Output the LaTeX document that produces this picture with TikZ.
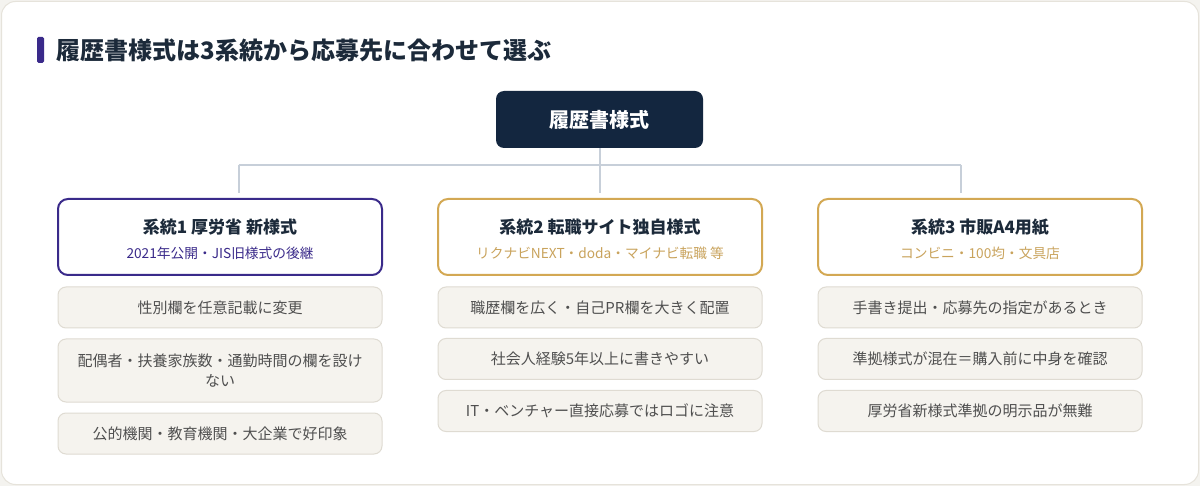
\documentclass[tikz,border=0pt]{standalone}
\usepackage{fontspec}
\setmainfont{Noto Sans CJK JP}
\usetikzlibrary{positioning}

\definecolor{navy}{HTML}{13263F}
\definecolor{inkdark}{HTML}{1C2A3A}
\definecolor{purpleline}{HTML}{3A2A8A}
\definecolor{goldline}{HTML}{D3A853}
\definecolor{goldtext}{HTML}{C9A35C}
\definecolor{itemfill}{HTML}{F5F3EE}
\definecolor{itemline}{HTML}{DFDBD2}
\definecolor{itemtext}{HTML}{4F4F4F}
\definecolor{linkgray}{HTML}{C7CFD9}
\definecolor{pagebg}{HTML}{F4F3EF}
\definecolor{cardline}{HTML}{E6E3DB}

\begin{document}
\begin{tikzpicture}[x=1pt, y=-1pt,
		root/.style={fill=navy, rounded corners=8pt, minimum width=207pt, minimum height=57pt,
			text=white, font=\fontsize{20}{24}\selectfont\bfseries},
		catbox/.style={draw, line width=2pt, fill=white, rounded corners=10pt,
			minimum width=324pt, minimum height=76pt},
		cattitle/.style={text=inkdark, font=\fontsize{17}{20}\selectfont\bfseries},
		catsub/.style={font=\fontsize{13.7}{16}\selectfont},
		item/.style={draw=itemline, line width=1pt, fill=itemfill, rounded corners=8pt,
			minimum width=324pt, text=itemtext, align=center,
			font=\fontsize{15}{20}\selectfont},
		link/.style={draw=linkgray, line width=2pt}]
		\useasboundingbox (0, 0) rectangle (1200, 486);
		\fill[pagebg]	(0, 0) rectangle (1200, 486);
		\filldraw[fill=white, draw=cardline, line width=1pt, rounded corners=14pt]	(1.5, 1.5) rectangle (1198.5, 484.5);

		% heading
		\fill[purpleline, rounded corners=1.5pt]	(37, 37) rectangle (44, 63);
		\node[anchor=west, text=inkdark, font=\fontsize{24}{28}\selectfont\bfseries] (heading) at (53, 50)
			{履歴書様式は3系統から応募先に合わせて選ぶ};

		\node[root] (root) at (599.5, 119.5) {履歴書様式};

		% three lines of forms
		\node[catbox, draw=purpleline] (cat1) at (220, 237) {};
		\node[catbox, draw=goldline] (cat2) at (600, 237) {};
		\node[catbox, draw=goldline] (cat3) at (980, 237) {};

		\node[cattitle] (t1) at (220, 227) {系統1 厚労省 新様式};
		\node[cattitle] (t2) at (600, 227) {系統2 転職サイト独自様式};
		\node[cattitle] (t3) at (980, 227) {系統3 市販A4用紙};
		\node[catsub, text=purpleline] (s1) at (220, 253) {2021年公開・JIS旧様式の後継};
		\node[catsub, text=goldtext] (s2) at (600, 253) {リクナビNEXT・doda・マイナビ転職 等};
		\node[catsub, text=goldtext] (s3) at (980, 253) {コンビニ・100均・文具店};

		% tree lines
		\coordinate (bus) at (599.5, 165);
		\coordinate (drop1) at (238.5, 193);
		\coordinate (drop2) at (599.5, 193);
		\coordinate (drop3) at (961, 193);
		\draw[link]	(root.south) to (bus);
		\draw[link]	(bus -| drop1) to (bus -| drop3);
		\foreach \i in {1,2,3}
			\draw[link]	(bus -| drop\i) to (drop\i);

		% items
		\node[item, minimum height=41pt] (a1) at (220, 307.5) {性別欄を任意記載に変更};
		\node[item, minimum height=63pt] (a2) at (220, 370.5) {配偶者・扶養家族数・通勤時間の欄を設け\\ない};
		\node[item, minimum height=41pt] (a3) at (220, 433.5) {公的機関・教育機関・大企業で好印象};

		\node[item, minimum height=41pt] (b1) at (600, 307.5) {職歴欄を広く・自己PR欄を大きく配置};
		\node[item, minimum height=41pt] (b2) at (600, 359) {社会人経験5年以上に書きやすい};
		\node[item, minimum height=41pt] (b3) at (600, 411) {IT・ベンチャー直接応募ではロゴに注意};

		\node[item, minimum height=41pt] (c1) at (980, 307.5) {手書き提出・応募先の指定があるとき};
		\node[item, minimum height=41pt] (c2) at (980, 359) {準拠様式が混在＝購入前に中身を確認};
		\node[item, minimum height=41pt] (c3) at (980, 411) {厚労省新様式準拠の明示品が無難};
	\end{tikzpicture}
\end{document}
